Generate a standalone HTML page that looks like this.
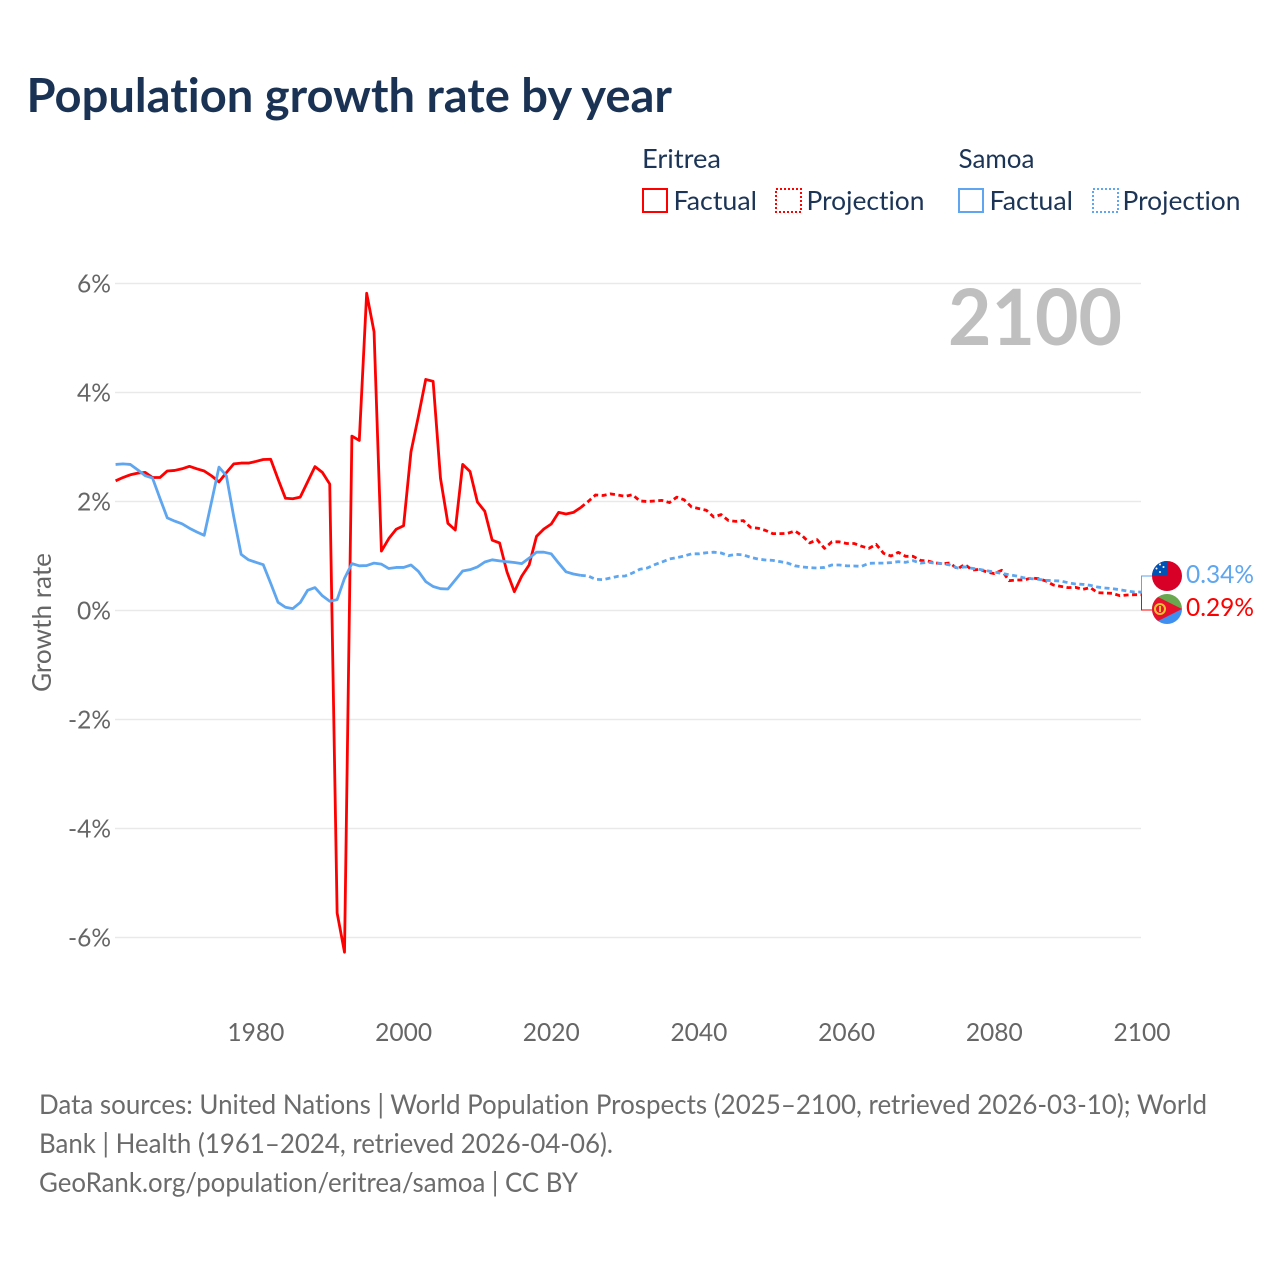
<!DOCTYPE html>
<html lang="en">
<head>
<meta charset="utf-8">
<title>Population growth rate by year</title>
<style>
html,body{margin:0;padding:0;background:#fff;width:1280px;height:1280px;overflow:hidden}
svg{display:block}
text{font-family:"Lato","Carlito","Liberation Sans",sans-serif;font-variant-ligatures:none}
</style>
</head>
<body>
<svg id="chart" xmlns="http://www.w3.org/2000/svg" width="1280" height="1280" viewBox="0 0 1280 1280">
  <rect width="1280" height="1280" fill="#ffffff"/>
  <text x="26.5" y="112" font-size="47" font-weight="700" fill="#1a3355" textLength="645.5" lengthAdjust="spacingAndGlyphs">Population growth rate by year</text>

  <g font-size="26" fill="#1c3557">
    <text x="642" y="168" textLength="79" lengthAdjust="spacingAndGlyphs">Eritrea</text>
    <text x="958.5" y="168" textLength="76" lengthAdjust="spacingAndGlyphs">Samoa</text>
    <g>
      <rect x="643" y="189" width="24" height="23" fill="none" stroke="#ff0000" stroke-width="2"/>
      <text x="673.5" y="210" textLength="83.5" lengthAdjust="spacingAndGlyphs">Factual</text>
    </g>
    <g>
      <rect x="776" y="189" width="25" height="23" fill="none" stroke="#ff0000" stroke-width="2" stroke-dasharray="2 2"/>
      <text x="806.5" y="210" textLength="118" lengthAdjust="spacingAndGlyphs">Projection</text>
    </g>
    <g>
      <rect x="959" y="189" width="24" height="23" fill="none" stroke="#5ea6ef" stroke-width="2"/>
      <text x="989.5" y="210" textLength="83.5" lengthAdjust="spacingAndGlyphs">Factual</text>
    </g>
    <g>
      <rect x="1093" y="189" width="25" height="23" fill="none" stroke="#5ea6ef" stroke-width="2" stroke-dasharray="2 2"/>
      <text x="1122.5" y="210" textLength="118" lengthAdjust="spacingAndGlyphs">Projection</text>
    </g>
  </g>

  <g id="grid"></g>
  <g id="yticks"></g>
  <g id="xticks"></g>

  <text transform="translate(51 622.5) rotate(-90)" text-anchor="middle" font-size="26" fill="#666666" textLength="139" lengthAdjust="spacingAndGlyphs">Growth rate</text>
  <text x="948" y="345" font-size="78" font-weight="700" fill="#bfbfbf" textLength="174" lengthAdjust="spacingAndGlyphs">2100</text>

  <g id="series"></g>

  <defs>
    <clipPath id="clipSamoa"><circle cx="1167" cy="576" r="15"/></clipPath>
    <clipPath id="clipEritrea"><circle cx="1167" cy="609" r="15"/></clipPath>
  </defs>
  <g clip-path="url(#clipSamoa)">
    <rect x="1152" y="561" width="30" height="30" fill="#d80027"/>
    <rect x="1152" y="561" width="15" height="15" fill="#0052b4"/>
    <circle cx="1160" cy="564.5" r="1" fill="#fff"/>
    <circle cx="1156.5" cy="568.5" r="1" fill="#fff"/>
    <circle cx="1163.5" cy="567" r="1" fill="#fff"/>
    <circle cx="1160" cy="572" r="1" fill="#fff"/>
  </g>
  <g clip-path="url(#clipEritrea)">
    <rect x="1152" y="594" width="30" height="15" fill="#6aa84f"/>
    <rect x="1152" y="609" width="30" height="15" fill="#3f8ff0"/>
    <polygon points="1152,594 1182,609 1152,624" fill="#e8112d"/>
    <circle cx="1160" cy="609" r="5" fill="none" stroke="#f2c230" stroke-width="2"/>
    <rect x="1159" y="606" width="2" height="6" fill="#f2c230"/>
  </g>
  <text x="1186" y="583" font-size="25" fill="#5ea6ef" textLength="68" lengthAdjust="spacingAndGlyphs">0.34%</text>
  <text x="1186" y="616" font-size="25" fill="#ff0000" textLength="68" lengthAdjust="spacingAndGlyphs">0.29%</text>

  <g font-size="27" fill="#6b6b6b">
    <text x="39" y="1114" textLength="1168" lengthAdjust="spacingAndGlyphs">Data sources: United Nations | World Population Prospects (2025–2100, retrieved 2026-03-10); World</text>
    <text x="39" y="1153" textLength="574" lengthAdjust="spacingAndGlyphs">Bank | Health (1961–2024, retrieved 2026-04-06).</text>
    <text x="39" y="1192" textLength="539" lengthAdjust="spacingAndGlyphs">GeoRank.org/population/eritrea/samoa | CC BY</text>
  </g>
</svg>

<script>
const yTicks = [6, 4, 2, 0, -2, -4, -6];
const xTicks = [1980, 2000, 2020, 2040, 2060, 2080, 2100];
const firstFactualYear = 1961;
const firstProjectionYear = 2024;
const eritreaFactual = [2.38,2.44,2.49,2.52,2.535,2.44,2.44,2.56,2.57,2.60,2.645,2.60,2.56,2.47,2.36,2.53,2.69,2.705,2.705,2.735,2.77,2.775,2.41,2.06,2.05,2.08,2.36,2.64,2.535,2.32,-5.55,-6.27,3.2,3.12,5.82,5.115,1.09,1.32,1.49,1.555,2.91,3.56,4.24,4.205,2.425,1.6,1.477,2.68,2.55,1.99,1.82,1.29,1.24,0.71,0.345,0.63,0.835,1.36,1.495,1.587,1.80,1.77,1.80,1.89];
const eritreaProjection = [1.89,2.0,2.12,2.11,2.14,2.12,2.095,2.125,2.01,2.0,2.01,2.02,1.98,2.08,2.03,1.90,1.87,1.84,1.715,1.76,1.65,1.635,1.65,1.525,1.51,1.47,1.41,1.41,1.415,1.46,1.37,1.24,1.30,1.14,1.26,1.26,1.23,1.23,1.18,1.14,1.214,1.05,1.0,1.067,0.994,0.994,0.92,0.908,0.872,0.859,0.872,0.761,0.847,0.743,0.755,0.706,0.676,0.737,0.547,0.56,0.56,0.596,0.584,0.541,0.468,0.443,0.419,0.425,0.388,0.419,0.327,0.321,0.315,0.272,0.284,0.29,0.29];
const samoaFactual = [2.68,2.69,2.68,2.58,2.475,2.43,2.06,1.70,1.64,1.59,1.51,1.44,1.38,2.0,2.63,2.475,1.72,1.03,0.93,0.885,0.84,0.50,0.15,0.06,0.035,0.145,0.37,0.42,0.27,0.17,0.2,0.59,0.86,0.82,0.825,0.87,0.85,0.77,0.79,0.79,0.835,0.72,0.53,0.44,0.40,0.395,0.56,0.725,0.75,0.80,0.89,0.93,0.91,0.895,0.88,0.86,0.96,1.07,1.07,1.04,0.87,0.71,0.67,0.645];
const samoaProjection = [0.645,0.633,0.572,0.566,0.596,0.627,0.633,0.688,0.756,0.78,0.84,0.89,0.945,0.97,1.0,1.04,1.04,1.06,1.07,1.055,1.006,1.03,1.02,0.976,0.945,0.927,0.92,0.896,0.87,0.82,0.80,0.785,0.78,0.79,0.835,0.835,0.82,0.817,0.81,0.865,0.87,0.87,0.878,0.896,0.884,0.914,0.87,0.884,0.87,0.859,0.835,0.78,0.80,0.774,0.755,0.73,0.706,0.68,0.657,0.633,0.60,0.584,0.572,0.554,0.547,0.541,0.51,0.486,0.48,0.462,0.43,0.413,0.40,0.382,0.358,0.34,0.34];

const NS = 'http://www.w3.org/2000/svg';
const xScale = year => 115.6 + (year - 1961) * (1142 - 115.6) / (2100 - 1961);
const yScale = value => 610.5 - value * 54.5;

function make(tag, attrs, parent) {
  const el = document.createElementNS(NS, tag);
  for (const k in attrs) el.setAttribute(k, attrs[k]);
  parent.appendChild(el);
  return el;
}

const gridG = document.getElementById('grid');
const yG = document.getElementById('yticks');
const xG = document.getElementById('xticks');
const seriesG = document.getElementById('series');

yTicks.forEach(v => {
  const line = make('line', {x1: 115, x2: 1141, y1: yScale(v), y2: yScale(v), stroke: '#e9e9e9', 'stroke-width': 1.6}, gridG);
  
  
  const label = v + '%';
  const t = make('text', {x: 111, y: yScale(v) + 9, 'text-anchor': 'end', 'font-size': 25, fill: '#666666', textLength: label.length === 3 ? 43 : 34, lengthAdjust: 'spacingAndGlyphs'}, yG);
  
  
  t.textContent = label;
});

xTicks.forEach(y => {
  const t = make('text', {x: xScale(y), y: 1041, 'text-anchor': 'middle', 'font-size': 25.6, fill: '#666666', textLength: 57, lengthAdjust: 'spacingAndGlyphs'}, xG);
  
  
  t.textContent = y;
});

function pathFor(values, startYear) {
  return values.map((v, i) => (i ? 'L' : 'M') + xScale(startYear + i).toFixed(2) + ' ' + yScale(v).toFixed(2)).join(' ');
}

function drawLine(values, startYear, color, dashed) {
  const attrs = {d: pathFor(values, startYear), fill: 'none', stroke: color, 'stroke-width': 2.8, 'stroke-linejoin': 'round'};
  if (dashed) attrs['stroke-dasharray'] = '5 3.5';
  return make('path', attrs, seriesG);
}

const redFactual = drawLine(eritreaFactual, firstFactualYear, '#ff0000', false);


const redProjection = drawLine(eritreaProjection, firstProjectionYear, '#ff0000', true);


const blueFactual = drawLine(samoaFactual, firstFactualYear, '#5ea6ef', false);


const blueProjection = drawLine(samoaProjection, firstProjectionYear, '#5ea6ef', true);



const samoaEnd = yScale(samoaProjection[samoaProjection.length - 1]);
const eritreaEnd = yScale(eritreaProjection[eritreaProjection.length - 1]);
const blueConnector = make('path', {d: 'M1142 ' + samoaEnd + ' H1141.5 V576 H1152', fill: 'none', stroke: '#5ea6ef', 'stroke-width': 1}, seriesG);


const redConnector = make('path', {d: 'M1142 ' + eritreaEnd + ' H1141.5 V610 H1152', fill: 'none', stroke: '#ff0000', 'stroke-width': 1}, seriesG);


</script>
</body>
</html>
